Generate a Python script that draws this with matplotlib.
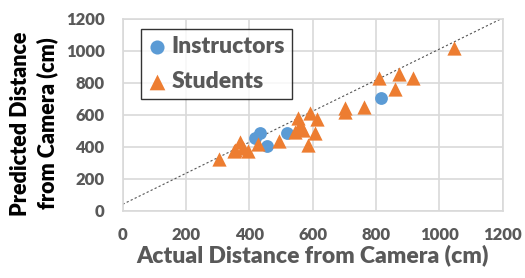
import numpy as np
import matplotlib.pyplot as plt

# Data
instr_actual = [434, 418, 455, 520, 815]
instr_pred = [488, 452, 405, 488, 703]

stud_actual = [305, 351, 370, 355, 381, 397, 426, 494, 544, 555, 560, 568,
               586, 591, 607, 614, 702, 702, 762, 810, 860, 873, 916, 1046]
stud_pred = [326, 372, 431, 379, 390, 371, 418, 438, 494, 577, 535, 504,
             411, 613, 484, 571, 640, 615, 646, 831, 759, 854, 827, 1019]

# Trend (dotted) line parameters
trend_slope = 0.97
trend_icpt = 40

ticks = [0, 200, 400, 600, 800, 1000, 1200]
grey = '#595959'
plt.rcParams['font.family'] = ['Lato', 'DejaVu Sans']

fig = plt.figure(figsize=(5.25, 2.78), dpi=100)
ax = fig.add_axes([0.2337, 0.2421, 0.9575 - 0.2337, 0.9327 - 0.2421])

ax.set_xlim(0, 1200)
ax.set_ylim(0, 1200)
ax.set_xticks(ticks)
ax.set_yticks(ticks)
ax.grid(True, color='#d9d9d9', linewidth=1.2)
ax.set_axisbelow(True)
for s in ax.spines.values():
    s.set_color('#d9d9d9')
    s.set_linewidth(1.2)
ax.tick_params(length=0, labelsize=12, labelcolor=grey)
ax.tick_params(axis='y', pad=13)
ax.tick_params(axis='x', pad=12)
for lab in ax.get_xticklabels() + ax.get_yticklabels():
    lab.set_fontweight('heavy')

xs = np.array([0, 1200])
ax.plot(xs, trend_slope * xs + trend_icpt, color='#555555', linestyle=(0, (2, 2)),
        linewidth=0.8, zorder=2)

ax.scatter(instr_actual, instr_pred, s=85, marker='o', color='#5B9BD5',
           label='Instructors', zorder=3, linewidths=0)
ax.scatter(stud_actual, stud_pred, s=105, marker='^', color='#ED7D31',
           label='Students', zorder=4, linewidths=0)

ax.set_xlabel('Actual Distance from Camera (cm)', fontsize=16.5, fontweight='heavy',
              color=grey, labelpad=1)
ax.set_ylabel('Predicted Distance\nfrom Camera (cm)', fontsize=15.5, fontweight='heavy',
              color='black', linespacing=1.3)
ax.yaxis.set_label_coords(-0.17, 0.454)

leg = ax.legend(loc='upper left', bbox_to_anchor=(0.048, 0.946), frameon=True,
                fancybox=False, edgecolor='black', handletextpad=0.25,
                borderpad=0.3, labelspacing=0.6, handlelength=0.8,
                borderaxespad=0, markerscale=1.1,
                prop={'weight': 'heavy', 'size': 16.5})
leg.get_frame().set_linewidth(1.0)
for t in leg.get_texts():
    t.set_color(grey)

plt.savefig('out.png', dpi=100)
